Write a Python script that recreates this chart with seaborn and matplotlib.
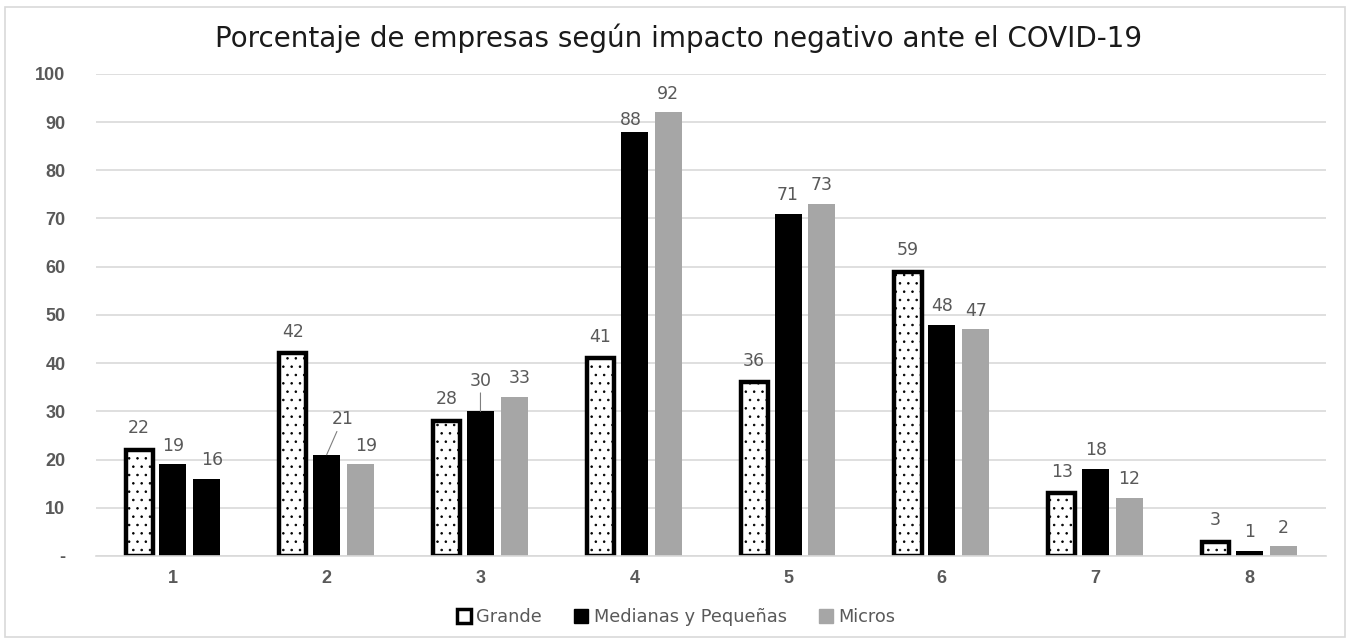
import matplotlib
matplotlib.use("Agg")
import matplotlib.pyplot as plt
import matplotlib.patches as mpatches
import seaborn as sns
import pandas as pd

categories = ["1", "2", "3", "4", "5", "6", "7", "8"]
series_names = ["Grande", "Medianas y Pequeñas", "Micros"]
grande = [22, 42, 28, 41, 36, 59, 13, 3]
medianas = [19, 21, 30, 88, 71, 48, 18, 1]
micros = [16, 19, 33, 92, 73, 47, 12, 2]
micros_colors = ["black", "#a6a6a6", "#a6a6a6", "#a6a6a6", "#a6a6a6", "#a6a6a6", "#a6a6a6", "#a6a6a6"]
y_ticks = [0, 10, 20, 30, 40, 50, 60, 70, 80, 90, 100]
y_ticklabels = ["-", "10", "20", "30", "40", "50", "60", "70", "80", "90", "100"]
title = "Porcentaje de empresas según impacto negativo ante el COVID-19"

rows = []
for name, vals in zip(series_names, [grande, medianas, micros]):
    for c, v in zip(categories, vals):
        rows.append({"cat": c, "serie": name, "valor": v})
df = pd.DataFrame(rows)

sns.set_theme(style="white")
plt.rcParams["font.family"] = ["Liberation Sans", "DejaVu Sans"]
plt.rcParams["hatch.linewidth"] = 0.6

fig = plt.figure(figsize=(13.52, 6.42), dpi=100)
ax = fig.add_axes([0.071, 0.134, 0.910, 0.751])

palette = {"Grande": "white", "Medianas y Pequeñas": "black", "Micros": "#a6a6a6"}
sns.barplot(data=df, x="cat", y="valor", hue="serie", order=categories,
            hue_order=series_names, palette=palette, width=0.66, gap=0.2,
            saturation=1, legend=False, ax=ax, errorbar=None)

# style bars
for ci, cont in enumerate(ax.containers):
    for bi, bar in enumerate(cont):
        if ci == 0:
            bar.set_facecolor("white")
            bar.set_edgecolor("black")
            bar.set_linewidth(3.2)
            bar.set_hatch("..")
        elif ci == 1:
            bar.set_edgecolor("none")
        else:
            bar.set_facecolor(micros_colors[bi])
            bar.set_edgecolor("none")

# labels
label_color = "#595959"
lfs = 12.5
for ci, cont in enumerate(ax.containers):
    vals = [grande, medianas, micros][ci]
    for bi, bar in enumerate(cont):
        x = bar.get_x() + bar.get_width() / 2
        h = bar.get_height()
        dx, dy = 0, 7
        if ci == 0:
            dy = 9
        if ci == 1 and bi == 1:
            ax.annotate("21", xy=(x, h), xytext=(x + 0.03, h + 5.5),
                        ha="left", va="bottom", fontsize=lfs, color=label_color,
                        family="DejaVu Sans",
                        arrowprops=dict(arrowstyle="-", color="#7f7f7f", lw=0.8,
                                        shrinkA=0, shrinkB=0))
            continue
        if ci == 1 and bi == 2:
            ax.annotate("30", xy=(x, h), xytext=(x, h + 4.5),
                        ha="center", va="bottom", fontsize=lfs, color=label_color,
                        family="DejaVu Sans",
                        arrowprops=dict(arrowstyle="-", color="#7f7f7f", lw=0.8,
                                        shrinkA=0, shrinkB=0))
            continue
        if ci == 1 and bi == 3:
            ax.annotate("88", (x - 0.02, h), xytext=(0, 2), textcoords="offset points",
                        ha="center", va="bottom", fontsize=lfs, color=label_color,
                        family="DejaVu Sans")
            continue
        if ci == 2 and bi in (0, 1, 2):
            dx = 4
        ax.annotate(f"{vals[bi]}", (x, h), xytext=(dx, dy), textcoords="offset points",
                    ha="center", va="bottom", fontsize=lfs, color=label_color,
                    family="DejaVu Sans")

ax.set_ylim(0, 100)
ax.set_xlim(-0.5, len(categories) - 0.5)
ax.set_yticks(y_ticks)
ax.set_yticklabels(y_ticklabels)
ax.yaxis.grid(True, color="#d9d9d9", linewidth=1.2)
ax.set_axisbelow(True)
for s in ["top", "right", "left"]:
    ax.spines[s].set_visible(False)
ax.spines["bottom"].set_color("#d9d9d9")
ax.spines["bottom"].set_linewidth(1.2)
ax.tick_params(axis="y", length=0, pad=22, labelsize=13, labelcolor="#595959")
ax.tick_params(axis="x", length=0, pad=10, labelsize=13, labelcolor="#595959")
for lab in ax.get_yticklabels() + ax.get_xticklabels():
    lab.set_fontweight("bold")
ax.set_xlabel("")
ax.set_ylabel("")

fig.text(0.502, 0.94, title, ha="center", va="center", fontsize=20,
         color="#1a1a1a", family="DejaVu Sans")

handles = [
    mpatches.Patch(facecolor="white", edgecolor="black", linewidth=2.5, label=series_names[0]),
    mpatches.Patch(facecolor="black", edgecolor="black", label=series_names[1]),
    mpatches.Patch(facecolor="#a6a6a6", edgecolor="#a6a6a6", label=series_names[2]),
]
leg = fig.legend(handles=handles, loc="center", bbox_to_anchor=(0.5, 0.039), ncol=3,
                 frameon=False, fontsize=12.8, handlelength=0.8, handleheight=0.8,
                 handletextpad=0.3, columnspacing=1.8)
for t in leg.get_texts():
    t.set_color("#595959")
    t.set_family("DejaVu Sans")

border = mpatches.Rectangle((5 / 1352, 5 / 642), 1340 / 1352, 630 / 642,
                            transform=fig.transFigure, fill=False,
                            edgecolor="#d9d9d9", linewidth=1.2)
fig.patches.append(border)

fig.savefig("out.png", dpi=100)
